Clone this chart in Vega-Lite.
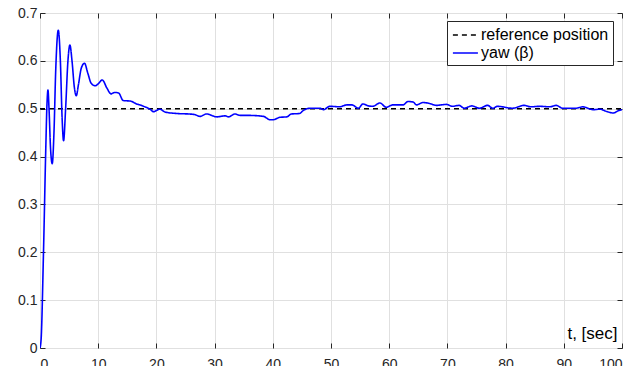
{
  "$schema": "https://vega.github.io/schema/vega-lite/v6.json",
  "width": 582,
  "height": 335,
  "autosize": {"type": "none"},
  "padding": {"left": 40, "top": 13, "right": 16, "bottom": 18},
  "background": "white",
  "config": {
    "font": "Liberation Sans",
    "view": {"stroke": "#262626", "strokeWidth": 1},
    "axis": {
      "labelFontSize": 14,
      "labelColor": "#262626",
      "tickColor": "#262626",
      "domainColor": "#262626",
      "gridColor": "#e0e0e0",
      "gridWidth": 1
    }
  },
  "data": {
    "values": [
      {"t": 0, "v": 0.5, "s": "reference position"},
      {"t": 100, "v": 0.5, "s": "reference position"},
      {"t": 0, "v": 0, "s": "yaw (β)"},
      {"t": 0.2, "v": 0.02, "s": "yaw (β)"},
      {"t": 0.6, "v": 0.2, "s": "yaw (β)"},
      {"t": 1.0, "v": 0.42, "s": "yaw (β)"},
      {"t": 1.2, "v": 0.51, "s": "yaw (β)"},
      {"t": 1.37, "v": 0.539, "s": "yaw (β)"},
      {"t": 1.55, "v": 0.5, "s": "yaw (β)"},
      {"t": 1.8, "v": 0.42, "s": "yaw (β)"},
      {"t": 2.1, "v": 0.385, "s": "yaw (β)"},
      {"t": 2.4, "v": 0.45, "s": "yaw (β)"},
      {"t": 2.7, "v": 0.58, "s": "yaw (β)"},
      {"t": 3.14, "v": 0.664, "s": "yaw (β)"},
      {"t": 3.5, "v": 0.6, "s": "yaw (β)"},
      {"t": 3.8, "v": 0.48, "s": "yaw (β)"},
      {"t": 4.05, "v": 0.433, "s": "yaw (β)"},
      {"t": 4.4, "v": 0.5, "s": "yaw (β)"},
      {"t": 4.8, "v": 0.6, "s": "yaw (β)"},
      {"t": 5.14, "v": 0.633, "s": "yaw (β)"},
      {"t": 5.5, "v": 0.6, "s": "yaw (β)"},
      {"t": 5.9, "v": 0.545, "s": "yaw (β)"},
      {"t": 6.23, "v": 0.527, "s": "yaw (β)"},
      {"t": 6.6, "v": 0.55, "s": "yaw (β)"},
      {"t": 7.1, "v": 0.585, "s": "yaw (β)"},
      {"t": 7.65, "v": 0.595, "s": "yaw (β)"},
      {"t": 8.2, "v": 0.575, "s": "yaw (β)"},
      {"t": 8.8, "v": 0.553, "s": "yaw (β)"},
      {"t": 9.5, "v": 0.548, "s": "yaw (β)"},
      {"t": 10.0, "v": 0.552, "s": "yaw (β)"},
      {"t": 10.7, "v": 0.56, "s": "yaw (β)"},
      {"t": 11.5, "v": 0.543, "s": "yaw (β)"},
      {"t": 12.2, "v": 0.531, "s": "yaw (β)"},
      {"t": 12.8, "v": 0.534, "s": "yaw (β)"},
      {"t": 13.5, "v": 0.533, "s": "yaw (β)"},
      {"t": 14.3, "v": 0.517, "s": "yaw (β)"},
      {"t": 15.5, "v": 0.516, "s": "yaw (β)"},
      {"t": 16.6, "v": 0.51, "s": "yaw (β)"},
      {"t": 17.2, "v": 0.508, "s": "yaw (β)"},
      {"t": 17.8, "v": 0.505, "s": "yaw (β)"},
      {"t": 18.9, "v": 0.499, "s": "yaw (β)"},
      {"t": 19.5, "v": 0.494, "s": "yaw (β)"},
      {"t": 20.6, "v": 0.499, "s": "yaw (β)"},
      {"t": 21.5, "v": 0.493, "s": "yaw (β)"},
      {"t": 23.5, "v": 0.49, "s": "yaw (β)"},
      {"t": 25.5, "v": 0.489, "s": "yaw (β)"},
      {"t": 26.5, "v": 0.488, "s": "yaw (β)"},
      {"t": 27.5, "v": 0.484, "s": "yaw (β)"},
      {"t": 28.6, "v": 0.489, "s": "yaw (β)"},
      {"t": 30.4, "v": 0.483, "s": "yaw (β)"},
      {"t": 31.8, "v": 0.485, "s": "yaw (β)"},
      {"t": 32.4, "v": 0.483, "s": "yaw (β)"},
      {"t": 33.5, "v": 0.489, "s": "yaw (β)"},
      {"t": 34.4, "v": 0.486, "s": "yaw (β)"},
      {"t": 36.0, "v": 0.486, "s": "yaw (β)"},
      {"t": 38.4, "v": 0.484, "s": "yaw (β)"},
      {"t": 39.5, "v": 0.477, "s": "yaw (β)"},
      {"t": 40.1, "v": 0.477, "s": "yaw (β)"},
      {"t": 41.2, "v": 0.482, "s": "yaw (β)"},
      {"t": 42.4, "v": 0.483, "s": "yaw (β)"},
      {"t": 43.2, "v": 0.489, "s": "yaw (β)"},
      {"t": 44.6, "v": 0.49, "s": "yaw (β)"},
      {"t": 45.2, "v": 0.496, "s": "yaw (β)"},
      {"t": 46.4, "v": 0.501, "s": "yaw (β)"},
      {"t": 48.1, "v": 0.501, "s": "yaw (β)"},
      {"t": 48.7, "v": 0.498, "s": "yaw (β)"},
      {"t": 49.8, "v": 0.505, "s": "yaw (β)"},
      {"t": 51.5, "v": 0.504, "s": "yaw (β)"},
      {"t": 52.7, "v": 0.508, "s": "yaw (β)"},
      {"t": 53.6, "v": 0.508, "s": "yaw (β)"},
      {"t": 54.7, "v": 0.501, "s": "yaw (β)"},
      {"t": 55.5, "v": 0.51, "s": "yaw (β)"},
      {"t": 56.4, "v": 0.506, "s": "yaw (β)"},
      {"t": 57.2, "v": 0.505, "s": "yaw (β)"},
      {"t": 58.4, "v": 0.512, "s": "yaw (β)"},
      {"t": 59.5, "v": 0.503, "s": "yaw (β)"},
      {"t": 60.6, "v": 0.508, "s": "yaw (β)"},
      {"t": 62.4, "v": 0.508, "s": "yaw (β)"},
      {"t": 63.2, "v": 0.515, "s": "yaw (β)"},
      {"t": 64.1, "v": 0.514, "s": "yaw (β)"},
      {"t": 64.7, "v": 0.508, "s": "yaw (β)"},
      {"t": 65.8, "v": 0.513, "s": "yaw (β)"},
      {"t": 66.9, "v": 0.511, "s": "yaw (β)"},
      {"t": 68.1, "v": 0.507, "s": "yaw (β)"},
      {"t": 69.8, "v": 0.509, "s": "yaw (β)"},
      {"t": 70.9, "v": 0.505, "s": "yaw (β)"},
      {"t": 72.0, "v": 0.507, "s": "yaw (β)"},
      {"t": 72.9, "v": 0.501, "s": "yaw (β)"},
      {"t": 74.2, "v": 0.506, "s": "yaw (β)"},
      {"t": 75.5, "v": 0.501, "s": "yaw (β)"},
      {"t": 76.9, "v": 0.507, "s": "yaw (β)"},
      {"t": 77.8, "v": 0.501, "s": "yaw (β)"},
      {"t": 78.6, "v": 0.505, "s": "yaw (β)"},
      {"t": 81.2, "v": 0.501, "s": "yaw (β)"},
      {"t": 83.2, "v": 0.507, "s": "yaw (β)"},
      {"t": 84.3, "v": 0.504, "s": "yaw (β)"},
      {"t": 85.9, "v": 0.505, "s": "yaw (β)"},
      {"t": 87.6, "v": 0.504, "s": "yaw (β)"},
      {"t": 88.7, "v": 0.507, "s": "yaw (β)"},
      {"t": 89.8, "v": 0.501, "s": "yaw (β)"},
      {"t": 92.1, "v": 0.501, "s": "yaw (β)"},
      {"t": 93.2, "v": 0.504, "s": "yaw (β)"},
      {"t": 95.1, "v": 0.498, "s": "yaw (β)"},
      {"t": 96.2, "v": 0.499, "s": "yaw (β)"},
      {"t": 97.4, "v": 0.494, "s": "yaw (β)"},
      {"t": 98.5, "v": 0.491, "s": "yaw (β)"},
      {"t": 99.4, "v": 0.496, "s": "yaw (β)"},
      {"t": 100, "v": 0.498, "s": "yaw (β)"}
    ]
  },
  "layer": [
    {
      "mark": {"type": "line", "strokeWidth": 1.6, "clip": true, "interpolate": "monotone"},
      "encoding": {
        "x": {
          "field": "t", "type": "quantitative",
          "scale": {"domain": [0, 100], "nice": false},
          "axis": {
            "orient": "bottom",
            "values": [0, 10, 20, 30, 40, 50, 60, 70, 80, 90, 100],
            "format": "d",
            "tickSize": -5,
            "labelPadding": 14,
            "domain": false,
            "grid": true,
            "title": "t, [sec]",
            "titleFontSize": 17,
            "titleFontWeight": "normal",
            "titleColor": "#000000",
            "titleAnchor": "end",
            "titleAlign": "right",
            "titleBaseline": "alphabetic",
            "titleX": 577,
            "titleY": -10
          }
        },
        "y": {
          "field": "v", "type": "quantitative",
          "scale": {"domain": [0, 0.7], "nice": false},
          "axis": {
            "orient": "left",
            "values": [0, 0.1, 0.2, 0.3, 0.4, 0.5, 0.6, 0.7],
            "format": ".1~f",
            "tickSize": -5,
            "labelPadding": 8,
            "domain": false,
            "grid": true,
            "title": null
          }
        },
        "color": {
          "field": "s", "type": "nominal",
          "scale": {"domain": ["reference position", "yaw (β)"], "range": ["#000000", "#0000ff"]},
          "legend": {
            "title": null,
            "orient": "none",
            "legendX": 407,
            "legendY": 8,
            "strokeColor": "#262626",
            "fillColor": "white",
            "padding": 4,
            "symbolType": "M-0.9,0H1.88",
            "symbolSize": 324,
            "symbolStrokeWidth": 1.5,
            "labelFontSize": 16,
            "labelColor": "#000000",
            "labelOffset": 10,
            "rowPadding": 0
          }
        },
        "strokeDash": {
          "field": "s", "type": "nominal",
          "scale": {"domain": ["reference position", "yaw (β)"], "range": [[5, 4], [1, 0]]},
          "legend": {
            "title": null,
            "orient": "none",
            "legendX": 407,
            "legendY": 8,
            "strokeColor": "#262626",
            "fillColor": "white",
            "padding": 4,
            "symbolType": "M-0.9,0H1.88",
            "symbolSize": 324,
            "symbolStrokeWidth": 1.5,
            "labelFontSize": 16,
            "labelColor": "#000000",
            "labelOffset": 10,
            "rowPadding": 0
          }
        }
      }
    },
    {
      "mark": {"type": "point", "opacity": 0},
      "encoding": {
        "x": {
          "field": "t", "type": "quantitative",
          "axis": {
            "orient": "top",
            "values": [0, 10, 20, 30, 40, 50, 60, 70, 80, 90, 100],
            "labels": false,
            "tickSize": -5,
            "domain": false,
            "grid": false,
            "title": null
          }
        },
        "y": {
          "field": "v", "type": "quantitative",
          "axis": {
            "orient": "right",
            "values": [0, 0.1, 0.2, 0.3, 0.4, 0.5, 0.6, 0.7],
            "labels": false,
            "tickSize": -5,
            "domain": false,
            "grid": false,
            "title": null
          }
        }
      }
    }
  ],
  "resolve": {"axis": {"x": "independent", "y": "independent"}}
}
